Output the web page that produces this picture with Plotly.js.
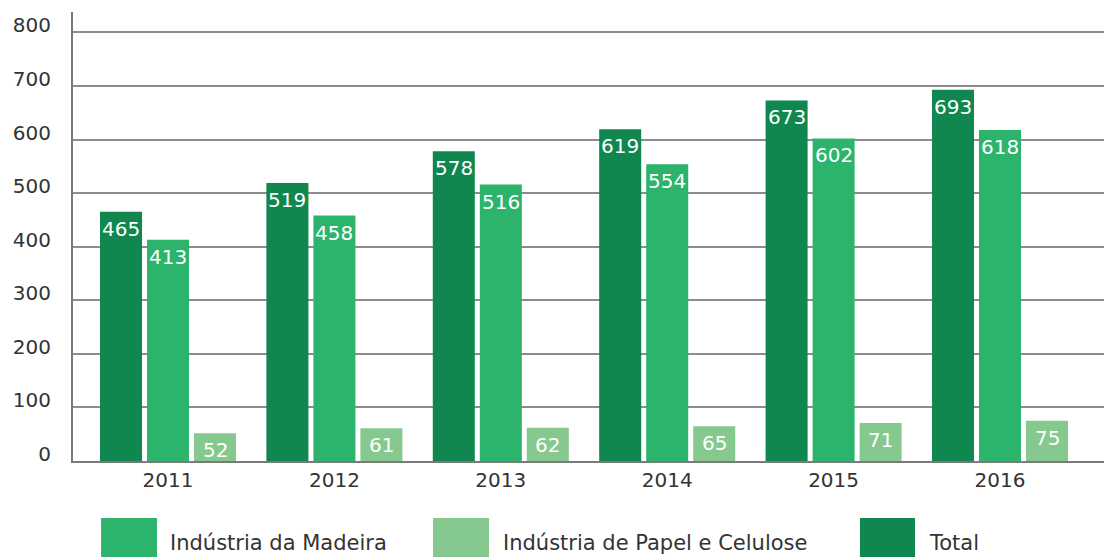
<!DOCTYPE html>
<html>
<head>
<meta charset="utf-8">
<script src="https://cdn.plot.ly/plotly-3.0.1.min.js"></script>
<style>html,body{margin:0;padding:0;background:#fff;}#chart{width:1104px;height:557px;}</style>
</head>
<body>
<div id="chart"></div>
<script>
var years = ['2011', '2012', '2013', '2014', '2015', '2016'];
var totalValues = [465, 519, 578, 619, 673, 693];
var madeiraValues = [413, 458, 516, 554, 602, 618];
var papelValues = [52, 61, 62, 65, 71, 75];
var seriesNames = ['Indústria da Madeira', 'Indústria de Papel e Celulose', 'Total'];

var FONT = 'DejaVu Sans, sans-serif';
var cTotal = '#0f874e', cMadeira = '#2db46c', cPapel = '#86c98f';

var series = [
  {name: seriesNames[2], y: totalValues, color: cTotal, off: -1},
  {name: seriesNames[0], y: madeiraValues, color: cMadeira, off: 0},
  {name: seriesNames[1], y: papelValues, color: cPapel, off: 1}
];

var traces = series.map(function(s){
  return {type: 'bar', name: s.name, x: years, y: s.y,
    marker: {color: s.color}, showlegend: false, hoverinfo: 'x+y'};
});

var step = 0.2825;
var annotations = [];
series.forEach(function(s){
  s.y.forEach(function(v, i){
    annotations.push({xref: 'x', yref: 'y', x: i + s.off * step, y: v,
      text: String(v), showarrow: false, yanchor: 'middle', yshift: -17,
      font: {family: FONT, size: 20, color: '#ffffff'}});
  });
});

// custom legend
var legendItems = [
  {name: seriesNames[0], color: cMadeira, x0: 0.0272, x1: 0.0815, tx: 0.0921},
  {name: seriesNames[1], color: cPapel, x0: 0.3492, x1: 0.4035, tx: 0.4151},
  {name: seriesNames[2], color: cTotal, x0: 0.7633, x1: 0.8167, tx: 0.8283}
];
var shapes = [];
legendItems.forEach(function(it){
  shapes.push({type: 'rect', xref: 'paper', yref: 'paper', x0: it.x0, x1: it.x1,
    y0: -0.127, y1: -0.26, fillcolor: it.color, line: {width: 0}});
  annotations.push({xref: 'paper', yref: 'paper', x: it.tx, y: -0.1826,
    xanchor: 'left', yanchor: 'middle', text: it.name, showarrow: false,
    font: {family: FONT, size: 21, color: '#333333'}});
});

var layout = {
  width: 1104, height: 557,
  margin: {l: 73, r: 0, t: 12, b: 96},
  paper_bgcolor: '#ffffff', plot_bgcolor: '#ffffff',
  barmode: 'group', bargap: 0.1525, bargroupgap: 0.106,
  font: {family: FONT, size: 20, color: '#333333'},
  xaxis: {type: 'category', range: [-0.571, 5.625], showgrid: false,
    showline: true, linecolor: '#7a7a7a', linewidth: 2, ticks: '',
    tickfont: {family: FONT, size: 20, color: '#333333'}, zeroline: false},
  yaxis: {range: [0, 838], dtick: 100, tick0: 0, showgrid: true,
    gridcolor: '#8c8c8c', gridwidth: 2, showline: true, linecolor: '#7a7a7a',
    linewidth: 2, ticks: '', zeroline: false, ticklabelstandoff: 16,
    ticklabelshift: -7,
    tickfont: {family: FONT, size: 20, color: '#333333'}},
  annotations: annotations,
  shapes: shapes,
  showlegend: false
};

Plotly.newPlot('chart', traces, layout, {displayModeBar: false, staticPlot: true});
</script>
</body>
</html>
